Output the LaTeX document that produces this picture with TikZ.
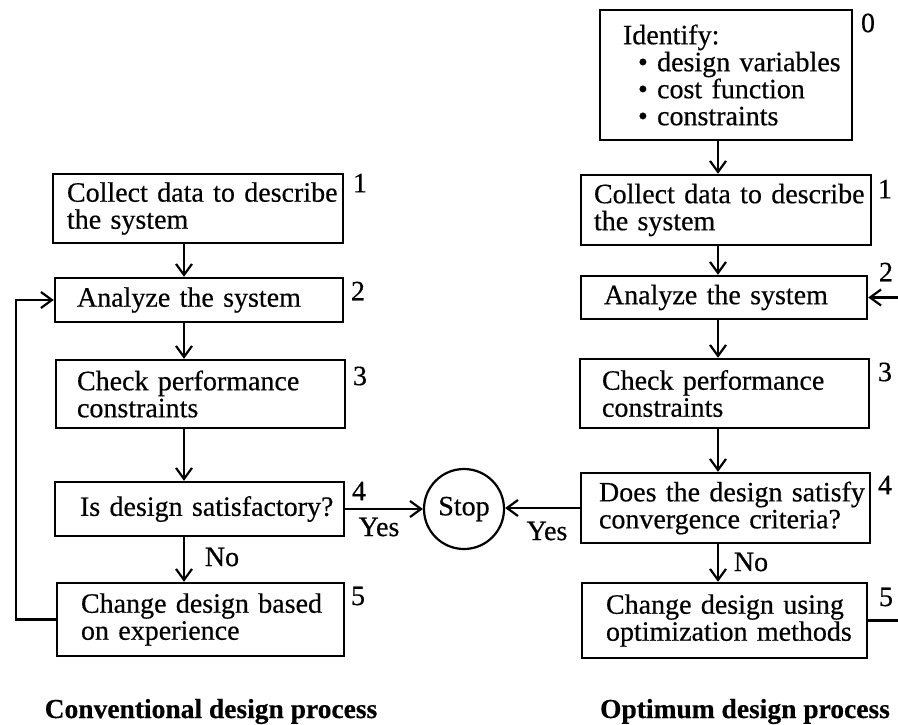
\documentclass[tikz,border=0pt]{standalone}
\usepackage{fontspec}
\setmainfont{Liberation Serif}[FakeBold=0.45]
\usetikzlibrary{arrows.meta,calc}
\begin{document}
\begin{tikzpicture}[x=1pt,y=-1pt,
  every node/.style={font=\fontsize{28}{27}\selectfont},
  pbox/.style n args={3}{draw, line width=2.4pt, align=left, inner ysep=0pt,
    inner xsep=#1pt, text width=#2pt, minimum height=#3pt},
  lbl/.style={inner sep=0pt},
  arr/.style={line width=2.2pt, -{Straight Barb[length=11pt,width=16pt]}},
  ttl/.style={font=\fontsize{27.5}{30}\selectfont\bfseries, anchor=base, inner sep=0pt}]
\useasboundingbox (0,0) rectangle (898,724);
\coordinate (axL) at (184,0);
\coordinate (axR) at (718,0);
\coordinate (lx) at (16,0);
\coordinate (rx) at (910,0);

% left column
\node[pbox={14}{262}{69}] (L1) at (198,208.5) {\mbox{Collect data to describe}\\\mbox{the system}};
\node[pbox={22}{244}{44}] (L2) at (199,300) {\mbox{Analyze the system}};
\node[pbox={21}{247}{68}] (L3) at (200.5,394) {\mbox{Check performance}\\\mbox{constraints}};
\node[pbox={25}{239}{54}] (L4) at (199.5,509) {\mbox{Is design satisfactory?}};
\node[pbox={24}{239}{73}] (L5) at (200.5,619.5) {\mbox{Change design based}\\\mbox{on experience}};

% right column
\node[pbox={23}{206}{130}] (R0) at (726,75) {\mbox{Identify:}\\\mbox{\hspace*{15pt}\textbullet\ design variables}\\\mbox{\hspace*{15pt}\textbullet\ cost function}\\\mbox{\hspace*{15pt}\textbullet\ constraints}};
\node[pbox={13}{264}{70}] (R1) at (726,210) {\mbox{Collect data to describe}\\\mbox{the system}};
\node[pbox={23}{240}{43}] (R2) at (724,297.5) {\mbox{Analyze the system}};
\node[pbox={22}{245}{69}] (R3) at (724.5,393.5) {\mbox{Check performance}\\\mbox{constraints}};
\node[pbox={18}{253}{70}] (R4) at (725.5,508) {\mbox{Does the design satisfy}\\\mbox{convergence criteria?}};
\node[pbox={24}{237}{75}] (R5) at (724.5,620.5) {\mbox{Change design using}\\\mbox{optimization methods}};

% stop
\node[circle, draw, line width=2.2pt, minimum size=80pt, inner sep=0pt] (stop) at (464,509) {Stop};

% step numbers
\node[lbl] (n1) at (360,183) {1};
\node[lbl] (n2) at (358,291) {2};
\node[lbl] (n3) at (360,376) {3};
\node[lbl] (n4) at (359,491) {4};
\node[lbl] (n5) at (358,596) {5};
\node[lbl] (m0) at (868,23) {0};
\node[lbl] (m1) at (885,189) {1};
\node[lbl] (m2) at (886,272) {2};
\node[lbl] (m3) at (885,372) {3};
\node[lbl] (m4) at (885,485) {4};
\node[lbl] (m5) at (886,597) {5};

% yes / no
\node[lbl] (yL) at (379,527) {Yes};
\node[lbl] (yR) at (547,531) {Yes};
\node[lbl] (noL) at (222,557) {No};
\node[lbl] (noR) at (751,562) {No};

% titles
\node[ttl] (tL) at (211,718) {Conventional design process};
\node[ttl] (tR) at (745,718) {Optimum design process};

% connectors left
\draw[arr] (L1.south -| axL) -- (L2.north -| axL);
\draw[arr] (L2.south -| axL) -- (L3.north -| axL);
\draw[arr] (L3.south -| axL) -- (L4.north -| axL);
\draw[arr] (L4.south -| axL) -- (L5.north -| axL);
\draw[arr] (L4.east) -- (L4.east -| stop.west);
\draw[arr] (L5.west) -- (L5.west -| lx) -- (L2.west -| lx) -- (L2.west);

% connectors right
\draw[arr] (R0.south -| axR) -- (R1.north -| axR);
\draw[arr] (R1.south -| axR) -- (R2.north -| axR);
\draw[arr] (R2.south -| axR) -- (R3.north -| axR);
\draw[arr] (R3.south -| axR) -- (R4.north -| axR);
\draw[arr] (R4.south -| axR) -- (R5.north -| axR);
\draw[arr] (R4.west) -- (R4.west -| stop.east);
\draw[arr] (R5.east) -- (R5.east -| rx) -- (R2.east -| rx) -- (R2.east);
\end{tikzpicture}
\end{document}
